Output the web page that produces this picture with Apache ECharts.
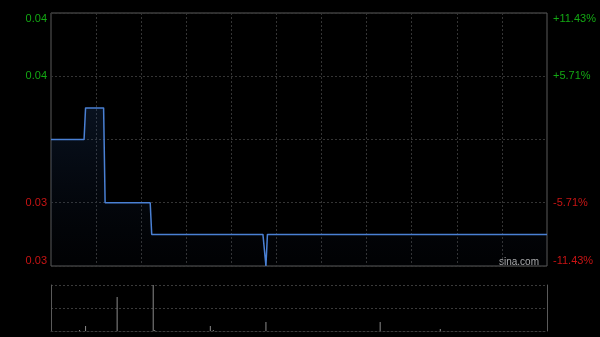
<!DOCTYPE html>
<html><head><meta charset="utf-8">
<script src="https://cdn.jsdelivr.net/npm/echarts@6/dist/echarts.min.js"></script>
<style>html,body{margin:0;padding:0;background:#000}#c{width:600px;height:337px}</style>
</head><body><div id="c"></div>
<script>
// ---- data ----
const prevClose = 0.035;
// price as step runs: value holds from start minute until the next run
const priceRunStart = [0, 23, 36, 67, 143, 144];
const priceRunValue = [0.035, 0.036, 0.033, 0.032, 0.031, 0.032];
// volume (sparse minutes)
const volIndex = [19, 23, 44, 68, 69, 106, 108, 143, 219, 259];
const volValue = [10, 50, 340, 460, 10, 50, 10, 90, 90, 20];
const leftTickLabels = ['0.03', '0.03', '', '0.04', '0.04'];
const rightTickLabels = ['-11.43%', '-5.71%', '', '+5.71%', '+11.43%'];
const tickColors = ['#c81414', '#c81414', '#888', '#13a813', '#13a813'];

// ---- build ----
const N = 331;
const times = [];
for (let i = 0; i < N; i++) {
  let m = i <= 150 ? 9 * 60 + 30 + i : 13 * 60 + (i - 150);
  times.push(String(Math.floor(m / 60)).padStart(2, '0') + ':' + String(m % 60).padStart(2, '0'));
}
const price = [];
for (let r = 0; r < priceRunStart.length; r++) {
  const end = r + 1 < priceRunStart.length ? priceRunStart[r + 1] : N;
  for (let i = priceRunStart[r]; i < end; i++) price.push(priceRunValue[r]);
}
const vol = new Array(N).fill(0);
volIndex.forEach((k, j) => { vol[k] = volValue[j]; });

const FONT = '"Liberation Sans", Arial, sans-serif';
const grid1 = { left: 51, right: 53, top: 13, height: 253, show: true, borderColor: '#5a5a5a', borderWidth: 1, backgroundColor: 'transparent' };
const grid2 = { left: 51, right: 53, top: 285, height: 46 };
const dotted = { color: '#343434', type: [2, 2], width: 1 };

const chart = echarts.init(document.getElementById('c'));
chart.setOption({
  backgroundColor: '#000',
  animation: false,
  grid: [grid1, grid2],
  xAxis: [
    { type: 'category', gridIndex: 0, data: times, boundaryGap: false,
      axisLine: { show: false }, axisTick: { show: false }, axisLabel: { show: false },
      splitLine: { show: true, interval: (i) => i % 30 === 0 && i !== 0 && i !== N - 1, lineStyle: dotted } },
    { type: 'category', gridIndex: 1, data: times, boundaryGap: false,
      axisLine: { show: true, lineStyle: { color: '#3a3a3a', type: [2, 2] } }, axisTick: { show: false }, axisLabel: { show: false },
      splitLine: { show: false } }
  ],
  yAxis: [
    { type: 'value', gridIndex: 0, min: 0.031, max: 0.039, interval: 0.002, position: 'left',
      axisLine: { show: false }, axisTick: { show: false },
      splitLine: { show: true, lineStyle: dotted },
      axisLabel: { margin: 4, fontSize: 11, fontFamily: FONT,
        verticalAlignMinLabel: 'bottom', verticalAlignMaxLabel: 'top',
        formatter: (v, i) => leftTickLabels[i] || '',
        color: (v, i) => tickColors[i] } },
    { type: 'value', gridIndex: 0, min: -11.43, max: 11.43, interval: 5.715, position: 'right',
      axisLine: { show: false }, axisTick: { show: false }, splitLine: { show: false },
      axisLabel: { margin: 6, fontSize: 11, fontFamily: FONT,
        verticalAlignMinLabel: 'bottom', verticalAlignMaxLabel: 'top',
        formatter: (v, i) => rightTickLabels[i] || '',
        color: (v, i) => tickColors[i] } },
    { type: 'value', gridIndex: 1, min: 0, max: 460, interval: 230, position: 'left',
      axisLine: { show: true, lineStyle: { color: '#5a5a5a' } }, axisTick: { show: false }, axisLabel: { show: false },
      splitLine: { show: true, lineStyle: { color: '#3a3a3a', type: [2, 2], width: 1 } } },
    { type: 'value', gridIndex: 1, min: 0, max: 460, interval: 230, position: 'right',
      axisLine: { show: true, lineStyle: { color: '#5a5a5a' } }, axisTick: { show: false }, axisLabel: { show: false },
      splitLine: { show: false } }
  ],
  series: [
    { type: 'line', xAxisIndex: 0, yAxisIndex: 0, data: price, symbol: 'none',
      lineStyle: { color: '#4a80d4', width: 1.5 },
      areaStyle: { origin: 'start', color: new echarts.graphic.LinearGradient(0, 0, 0, 1, [
        { offset: 0, color: 'rgba(40,80,140,0.32)' }, { offset: 1, color: 'rgba(20,40,80,0.06)' }]) },
      markLine: { silent: true, symbol: 'none', label: { show: false },
        lineStyle: { color: '#606060', type: [4, 2, 1, 2], width: 1 },
        data: [{ yAxis: prevClose }] } },
    { type: 'bar', xAxisIndex: 1, yAxisIndex: 2, data: vol, barWidth: 1,
      itemStyle: { color: '#8a8a8a' } }
  ],
  graphic: [
    { type: 'text', left: 499, top: 257, style: { text: 'sina.com', fill: '#b0b0b0', font: '10px ' + FONT } }
  ]
});
</script></body></html>
